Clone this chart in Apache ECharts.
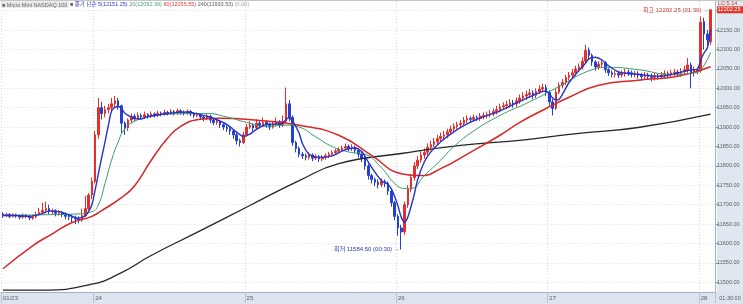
<!DOCTYPE html>
<html><head><meta charset="utf-8">
<script src="https://cdn.jsdelivr.net/npm/echarts@6/dist/echarts.min.js"></script>
<style>html,body{margin:0;padding:0;background:#fff}#c{width:743px;height:304px}</style>
</head><body><div id="c"></div>
<script>
// ---------- data ----------
const dayLabels = ['01/23', '24', '25', '26', '27', '28'];
const dayStarts = [0, 28, 74, 120, 166, 212];
const yTicks = [11500, 11550, 11600, 11650, 11700, 11750, 11800, 11850, 11900, 11950, 12000, 12050, 12100, 12150, 12200];
const yMin = 11475, yMax = 12225;

const opens = [
11676,11672,11675,11670,11674,11671,11668,11673,11670,11666,
11669,11675,11680,11685,11690,11682,11684,11678,11680,11675,
11670,11668,11666,11663,11660,11672,11690,11725,11760,11880,
11950,11935,11945,11950,11960,11968,11955,11910,11898,11918,
11928,11922,11930,11926,11932,11928,11934,11930,11936,11933,
11938,11935,11940,11936,11942,11938,11936,11940,11934,11930,
11932,11926,11922,11928,11918,11912,11915,11906,11900,11896,
11890,11880,11865,11860,11880,11900,11905,11898,11910,11904,
11912,11906,11900,11908,11914,11905,11915,11960,11925,11860,
11845,11830,11826,11822,11828,11820,11824,11818,11822,11826,
11830,11834,11838,11842,11846,11850,11845,11848,11840,11830,
11820,11800,11775,11765,11758,11752,11760,11755,11735,11705,
11670,11640,11630,11700,11740,11770,11800,11815,11828,11835,
11848,11855,11862,11870,11876,11880,11888,11895,11902,11906,
11910,11918,11922,11920,11925,11922,11928,11930,11932,11935,
11940,11945,11952,11955,11958,11962,11960,11968,11975,11980,
11984,11988,11982,11992,11998,12002,11990,11965,11948,11990,
12008,12015,12028,12034,12040,12050,12055,12070,12098,12085,
12068,12055,12062,12066,12048,12040,12036,12038,12034,12038,
12042,12040,12036,12038,12034,12030,12034,12030,12028,12032,
12030,12034,12038,12036,12040,12042,12038,12044,12048,12060,
12040,12048,12045,12172,12140,12120];
const closes = [
11672,11675,11670,11674,11671,11668,11673,11670,11666,11669,
11675,11680,11685,11690,11682,11684,11678,11680,11675,11670,
11668,11666,11663,11660,11672,11690,11725,11760,11880,11950,
11935,11945,11950,11960,11968,11955,11910,11898,11918,11928,
11922,11930,11926,11932,11928,11934,11930,11936,11933,11938,
11935,11940,11936,11942,11938,11936,11940,11934,11930,11932,
11926,11922,11928,11918,11912,11915,11906,11900,11896,11890,
11880,11865,11860,11880,11900,11905,11898,11910,11904,11912,
11906,11900,11908,11914,11905,11915,11960,11925,11860,11845,
11830,11826,11822,11828,11820,11824,11818,11822,11826,11830,
11834,11838,11842,11846,11850,11845,11848,11840,11830,11820,
11800,11775,11765,11758,11752,11760,11755,11735,11705,11670,
11640,11630,11700,11740,11770,11800,11815,11828,11835,11848,
11855,11862,11870,11876,11880,11888,11895,11902,11906,11910,
11918,11922,11920,11925,11922,11928,11930,11932,11935,11940,
11945,11952,11955,11958,11962,11960,11968,11975,11980,11984,
11988,11982,11992,11998,12002,11990,11965,11948,11990,12008,
12015,12028,12034,12040,12050,12055,12070,12098,12085,12068,
12055,12062,12066,12048,12040,12036,12038,12034,12038,12042,
12040,12036,12038,12034,12030,12034,12030,12028,12032,12030,
12034,12038,12036,12040,12042,12038,12044,12048,12060,12040,
12048,12045,12170,12140,12125,12202.25];
const lows = [
11666,11668,11665,11667,11666,11662,11664,11665,11660,11661,
11665,11672,11676,11678,11675,11674,11670,11672,11668,11662,
11660,11655,11650,11652,11656,11668,11685,11715,11755,11870,
11920,11925,11935,11940,11950,11945,11885,11880,11890,11910,
11915,11918,11920,11921,11922,11924,11925,11926,11928,11930,
11930,11932,11930,11932,11932,11930,11932,11928,11924,11925,
11920,11915,11918,11910,11905,11906,11898,11892,11888,11880,
11870,11855,11850,11856,11875,11895,11890,11894,11898,11900,
11898,11892,11896,11902,11898,11900,11910,11915,11852,11835,
11822,11818,11814,11816,11812,11815,11810,11812,11816,11820,
11825,11828,11832,11836,11840,11838,11838,11832,11822,11810,
11790,11765,11755,11748,11742,11745,11745,11725,11695,11660,
11620,11584.5,11622,11692,11732,11762,11792,11808,11818,11828,
11840,11848,11855,11862,11868,11872,11880,11888,11895,11898,
11902,11910,11912,11914,11915,11916,11920,11922,11925,11928,
11932,11938,11944,11946,11950,11950,11952,11960,11966,11970,
11975,11972,11975,11985,11990,11980,11955,11930,11944,11985,
12000,12008,12020,12026,12032,12042,12048,12064,12075,12058,
12045,12048,12054,12040,12032,12028,12028,12026,12028,12030,
12032,12028,12028,12025,12020,12022,12022,12018,12020,12022,
12024,12026,12028,12030,12032,12030,12030,12036,12040,12000,
12030,12036,12040,12100,12110,12112];
const highs = [
11680,11679,11678,11678,11677,11675,11677,11676,11673,11674,
11682,11692,11705,11708,11700,11690,11688,11686,11684,11680,
11676,11674,11672,11670,11690,11722,11730,11770,11890,11975,
11965,11955,11960,11975,11980,11975,11958,11915,11922,11935,
11934,11938,11935,11940,11936,11940,11938,11942,11940,11945,
11942,11946,11944,11948,11946,11943,11946,11944,11938,11938,
11935,11930,11934,11932,11922,11920,11918,11910,11905,11900,
11895,11885,11870,11888,11908,11915,11910,11920,11916,11925,
11918,11912,11915,11925,11918,11930,12002,11970,11930,11865,
11850,11836,11832,11835,11832,11830,11828,11828,11832,11836,
11840,11844,11848,11852,11858,11855,11856,11852,11845,11835,
11825,11805,11780,11770,11765,11768,11765,11760,11740,11710,
11675,11648,11708,11750,11780,11810,11825,11838,11845,11858,
11865,11872,11880,11886,11890,11896,11904,11910,11914,11918,
11926,11930,11928,11932,11930,11936,11938,11940,11944,11948,
11955,11960,11964,11968,11972,11970,11976,11984,11990,11994,
11998,11995,12000,12008,12012,12010,11995,11972,11998,12015,
12024,12035,12042,12050,12058,12064,12080,12112,12105,12090,
12072,12070,12075,12070,12052,12046,12045,12044,12046,12050,
12048,12046,12045,12044,12040,12042,12040,12038,12040,12038,
12042,12046,12044,12048,12050,12048,12052,12058,12078,12066,
12056,12054,12185,12182,12150,12202.25];

// moving averages: [bar index, value]
const ma5 = [[0,11672],[4,11672],[8,11670],[12,11677],[14,11684],[17,11682],[20,11674],[23,11665],[25,11672],[26,11682],[27,11700],[28,11738],[29,11781],[30,11822],[31,11862],[32,11904],[33,11942],[34,11951],[35,11953],[36,11948],[37,11936],[38,11930],[40,11922],[42,11921],[44,11927],[47,11931],[50,11935],[53,11938],[56,11939],[59,11934],[62,11928],[65,11919],[68,11907],[71,11887],[73,11876],[75,11882],[77,11894],[80,11907],[83,11908],[85,11910],[86,11920],[87,11924],[88,11915],[89,11901],[90,11884],[91,11857],[93,11830],[96,11822],[100,11826],[104,11842],[107,11846],[109,11837],[111,11810],[113,11784],[115,11762],[117,11752],[118,11741],[119,11721],[120,11697],[121,11668],[122,11655],[123,11668],[124,11696],[125,11728],[126,11765],[128,11810],[130,11836],[133,11862],[136,11882],[140,11904],[145,11924],[150,11938],[155,11958],[160,11978],[164,11992],[165,11993],[166,11986],[167,11975],[168,11970],[169,11972],[170,11985],[172,12015],[175,12046],[177,12065],[178,12076],[180,12080],[182,12073],[184,12058],[187,12042],[190,12038],[195,12034],[200,12031],[205,12039],[208,12046],[210,12048],[211,12049],[212,12073],[213,12091],[214,12104],[215,12151.25]];
const ma20 = [[0,11672],[12,11674],[22,11676],[27,11682],[29,11700],[31,11755],[33,11815],[35,11862],[37,11895],[40,11915],[44,11926],[48,11932],[52,11934],[62,11935],[68,11926],[74,11912],[80,11902],[86,11905],[90,11900],[95,11875],[100,11850],[105,11836],[110,11830],[115,11795],[119,11755],[122,11742],[124,11742],[128,11775],[133,11815],[137,11850],[143,11890],[151,11930],[160,11965],[169,12005],[178,12045],[184,12054],[193,12048],[203,12036],[210,12040],[212,12047],[215,12092.39]];
const ma60 = [[0,11535],[9,11594],[15,11625],[21,11654],[27,11670],[30,11685],[36,11718],[40,11749],[45,11814],[50,11871],[54,11902],[60,11920],[66,11923],[78,11917],[90,11905],[102,11879],[112,11827],[121,11780],[127,11775],[133,11793],[142,11835],[151,11879],[157,11912],[165,11948],[172,11977],[181,12008],[193,12021],[205,12031],[215,12055.55]];
const ma240 = [[0,11480],[12,11480],[27,11495],[36,11525],[45,11569],[60,11633],[75,11698],[90,11762],[102,11806],[121,11832],[139,11853],[157,11866],[175,11884],[193,11899],[215,11933.53]];

const highTime = '01:30', lowTime = '00:30';
const lcText = 'LC:5.14';
const lastTime = '01:30:00';

// ---------- chart ----------
const FONT = '"Liberation Sans","Noto Sans CJK KR",sans-serif';
const N = opens.length + 1;
const cats = Array.from({length: N}, (_, i) => String(i));
const candles = opens.map((o, i) => [o, closes[i], lows[i], highs[i]]);
const isDay = i => dayStarts.indexOf(i) >= 0;

let hiIdx = 0, loIdx = 0;
highs.forEach((h, i) => { if (h > highs[hiIdx]) hiIdx = i; });
lows.forEach((l, i) => { if (l < lows[loIdx]) loIdx = i; });
const lastVal = a => a[a.length - 1][1].toFixed(2);

const chart = echarts.init(document.getElementById('c'), null, {renderer: 'canvas'});

function lineS(name, data, color, width, smooth, extra) {
  return Object.assign({
    name, type: 'line', data, symbol: 'none', showSymbol: false, smooth,
    lineStyle: {color, width}, z: 4, animation: false, silent: true
  }, extra || {});
}

chart.setOption({
  animation: false,
  textStyle: {fontFamily: FONT},
  grid: {left: 0, right: 26, top: 1, bottom: 12},
  xAxis: {
    type: 'category', data: cats, boundaryGap: true,
    axisLine: {show: true, lineStyle: {color: '#a5b0c0', width: 1}},
    axisTick: {show: true, interval: i => isDay(i), length: 11, lineStyle: {color: '#b9c3d1'}},
    axisLabel: {
      interval: i => isDay(i), align: 'left', fontSize: 6, color: '#606060', margin: 3,
      formatter: (v, i) => dayLabels[dayStarts.indexOf(i)] || ''
    },
    splitLine: {show: true, interval: i => isDay(i), lineStyle: {color: '#d8d8d8', type: [1, 2], width: 1}}
  },
  yAxis: {
    type: 'value', position: 'right', min: yMin, max: yMax,
    axisLine: {show: true, lineStyle: {color: '#a5b0c0'}},
    axisTick: {show: true, length: 3, customValues: yTicks, lineStyle: {color: '#8d99ab'}},
    axisLabel: {customValues: yTicks, formatter: v => v.toFixed(2), fontSize: 5.5, color: '#606060', margin: 1.5},
    splitLine: {show: false}
  },
  series: [
    {
      type: 'candlestick', data: candles, barWidth: '62%', z: 3,
      itemStyle: {color: '#e3302b', color0: '#2440d2', borderColor: '#e3302b', borderColor0: '#2440d2', borderWidth: 1},
      markPoint: {
        symbol: 'rect', symbolSize: 1, silent: true, z: 10,
        itemStyle: {color: 'rgba(0,0,0,0)'},
        data: [
          {coord: [String(hiIdx), highs[hiIdx]], itemStyle: {color: 'rgba(0,0,0,0)'},
            label: {show: true, position: 'left', distance: 1, offset: [0, 1], fontSize: 6, color: '#d43a32', fontFamily: FONT,
            formatter: '최고 ' + highs[hiIdx].toFixed(2) + ' (' + highTime + ') →'}},
          {coord: [String(loIdx), lows[loIdx]], itemStyle: {color: 'rgba(0,0,0,0)'},
            label: {show: true, position: 'left', distance: 1, fontSize: 6, color: '#2c3bb5', fontFamily: FONT,
            formatter: '최저 ' + lows[loIdx].toFixed(2) + ' (' + lowTime + ') →'}}
        ]
      }
    },
    lineS('MA240', ma240, '#262626', 1.3, 0.5, {
      markLine: {
        silent: true, symbol: ['none', 'none'], label: {show: false}, z: 1,
        lineStyle: {color: '#dedede', type: [1, 2], width: 1},
        data: yTicks.map(v => ({yAxis: v}))
      }
    }),
    lineS('MA60', ma60, '#d8262b', 1.5, 0.5),
    lineS('MA20', ma20, '#3b9a6c', 1, 0.5),
    lineS('MA5', ma5, '#2233c6', 1.4, 0.25)
  ]
});

const yBox = chart.convertToPixel({yAxisIndex: 0}, closes[closes.length - 1]);
chart.setOption({
  graphic: {elements: [
    {type: 'rect', z: -1, silent: true, shape: {x: 717, y: 0, width: 26, height: 304}, style: {fill: '#dfe7f1'}},
    {type: 'rect', z: -1, silent: true, shape: {x: 0, y: 292, width: 743, height: 12}, style: {fill: '#dbe4ef'}},
    {type: 'rect', z: 50, silent: true, shape: {x: 0, y: 0, width: 743, height: 1}, style: {fill: '#c6c6c6'}},
    {type: 'rect', z: 50, silent: true, shape: {x: 717, y: yBox - 3.5, width: 26, height: 7}, style: {fill: '#e03a2e'}},
    {type: 'text', z: 51, silent: true, style: {x: 729, y: yBox, text: closes[closes.length - 1].toFixed(2), fill: '#ffffff', font: '5.5px ' + FONT, textAlign: 'center', textVerticalAlign: 'middle'}},
    {type: 'text', z: 51, silent: true, style: {x: 718, y: 3.5, text: lcText, fill: '#d43a32', font: '5.5px ' + FONT, textAlign: 'left', textVerticalAlign: 'middle'}},
    {type: 'text', z: 51, silent: true, style: {x: 730, y: 298.5, text: lastTime, fill: '#606060', font: '5.5px ' + FONT, textAlign: 'center', textVerticalAlign: 'middle'}},
    {type: 'text', z: 51, silent: true, style: {
      x: 1, y: 4.5, textVerticalAlign: 'middle', font: '5.5px ' + FONT,
      text: '{g|■ Micro Mini NASDAQ 100}{s| }{k|■}{s| }{b|종가 단순 5(' + lastVal(ma5) + ')}{s| }{gr|20(' + lastVal(ma20) + ')}{s| }{r|60(' + lastVal(ma60) + ')}{s| }{d|240(' + lastVal(ma240) + ')}{s| }{l|(0.00)}',
      rich: {
        g: {fill: '#6a6a6a', backgroundColor: '#e6e6e6', font: '5.5px ' + FONT, padding: [1, 1, 0, 1]},
        s: {font: '5.5px ' + FONT},
        k: {fill: '#555a80', font: '5.5px ' + FONT},
        b: {fill: '#3434c8', font: '5.5px ' + FONT},
        gr: {fill: '#49a077', font: '5.5px ' + FONT},
        r: {fill: '#d04040', font: '5.5px ' + FONT},
        d: {fill: '#555555', font: '5.5px ' + FONT},
        l: {fill: '#a0a0a0', font: '5.5px ' + FONT}
      }
    }}
  ]}
});
</script>
</body></html>
